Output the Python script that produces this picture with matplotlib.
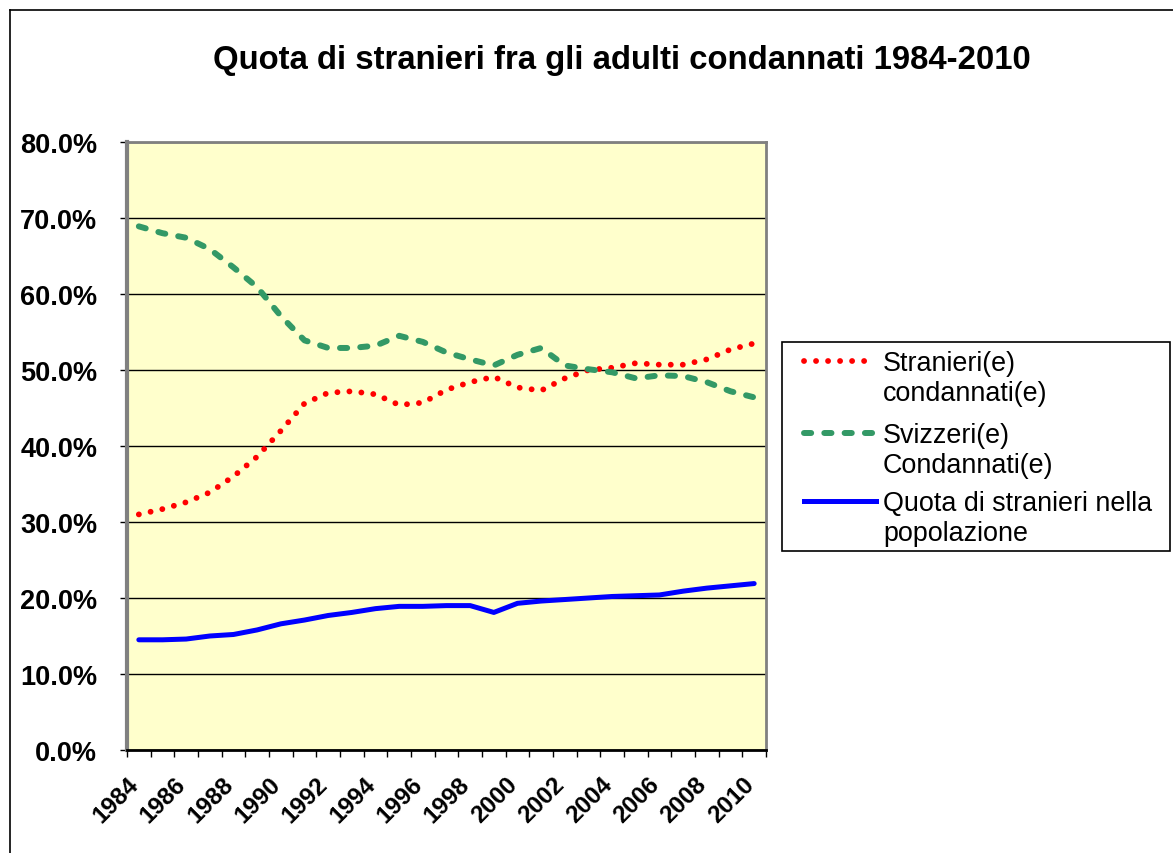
import matplotlib
matplotlib.use("Agg")
import matplotlib.pyplot as plt
from matplotlib.lines import Line2D
from matplotlib.patches import Rectangle
from matplotlib.ticker import FuncFormatter, MultipleLocator
import numpy as np

plt.rcParams['font.family'] = ['Liberation Sans', 'DejaVu Sans']

years = list(range(1984, 2011))
stranieri = [31.0, 31.7, 32.6, 33.9, 36.0, 38.6, 42.0, 45.6, 47.0, 47.2, 46.8, 45.4, 45.7,
             47.4, 48.4, 49.1, 47.7, 47.3, 48.9, 50.0, 50.3, 50.9, 50.7, 50.7, 51.4, 52.7, 53.5]
svizzeri = [68.9, 68.0, 67.4, 65.9, 63.5, 60.9, 57.1, 53.9, 52.9, 52.9, 53.2, 54.5, 53.7,
            52.3, 51.4, 50.6, 52.0, 52.9, 50.6, 50.1, 49.7, 48.9, 49.3, 49.2, 48.4, 47.2, 46.4]
popolazione = [14.5, 14.5, 14.6, 15.0, 15.2, 15.8, 16.6, 17.1, 17.7, 18.1, 18.6, 18.9, 18.9,
               19.0, 19.0, 18.1, 19.3, 19.6, 19.8, 20.0, 20.2, 20.3, 20.4, 20.9, 21.3, 21.6, 21.9]
labels = ["Stranieri(e)\ncondannati(e)", "Svizzeri(e)\nCondannati(e)",
          "Quota di stranieri nella\npopolazione"]
title = "Quota di stranieri fra gli adulti condannati 1984-2010"

W, H = 1173, 854
fig = plt.figure(figsize=(W / 100, H / 100), dpi=100)
fig.patch.set_facecolor('white')

L, R, T, B = 127, 766, 143, 751
ax = fig.add_axes([L / W, 1 - B / H, (R - L) / W, (B - T) / H])
ax.set_facecolor('#FFFFCC')

red_style = dict(color='#FF0000', lw=4.2, linestyle=(0, (0.01, 2.05)), dash_capstyle='round')
green_style = dict(color='#339966', lw=4.3, linestyle=(0, (1.2, 2.2)), dash_capstyle='round')
blue_style = dict(color='#0000FF', lw=3.6, solid_capstyle='round')

x = np.arange(len(years))
ax.plot(x, stranieri, zorder=3, **red_style)
ax.plot(x, svizzeri, zorder=3, **green_style)
ax.plot(x, popolazione, zorder=3, **blue_style)

ax.set_xlim(-0.5, len(years) - 0.5)
ax.set_ylim(0, 80)
ax.yaxis.set_major_locator(MultipleLocator(10))
ax.yaxis.set_major_formatter(FuncFormatter(lambda v, p: f"{v:.1f}%"))
ax.grid(axis='y', color='black', lw=1.0)
ax.set_axisbelow(True)

# category boundary ticks; year labels hang from the boundary left of each even year
bounds = np.arange(-0.5, len(years))
tick_labels = [str(years[i]) if (i < len(years) and i % 2 == 0) else '' for i in range(len(bounds))]
ax.set_xticks(bounds)
ax.set_xticklabels(tick_labels, rotation=45, ha='right', va='top',
                   rotation_mode='anchor', fontsize=17.5, fontweight='bold')
ax.tick_params(axis='x', length=5, width=1, color='black', pad=11)
ax.tick_params(axis='y', length=5, width=1, color='black', labelsize=19.5, pad=16.5)
for lab in ax.get_yticklabels():
    lab.set_fontweight('bold')

for s in ['top', 'right']:
    ax.spines[s].set_color('#808080')
    ax.spines[s].set_linewidth(2)
ax.spines['left'].set_color('#808080')
ax.spines['left'].set_linewidth(3)
ax.spines['bottom'].set_color('black')
ax.spines['bottom'].set_linewidth(2)

fig.text(622 / W, 1 - 61 / H, title, ha='center', va='center', fontsize=23.7,
         fontweight='bold')

# outer chart frame
fig.add_artist(Line2D([10 / W, 1.0], [1 - 11 / H, 1 - 11 / H], color='black', lw=1.2,
                      transform=fig.transFigure))
fig.add_artist(Line2D([10 / W, 10 / W], [0, 1 - 11 / H], color='black', lw=1.2,
                      transform=fig.transFigure))

# legend
lx0, ly0, lx1, ly1 = 782, 343, 1170, 552
fig.add_artist(Rectangle((lx0 / W, 1 - ly1 / H), (lx1 - lx0) / W, (ly1 - ly0) / H,
                         transform=fig.transFigure, facecolor='white',
                         edgecolor='black', lw=1.2))
styles = [red_style, green_style, dict(color='#0000FF', lw=3.6)]
rows = [362, 434, 502]
for lab, st, yy in zip(labels, styles, rows):
    fig.add_artist(Line2D([804 / W, 876 / W], [1 - yy / H, 1 - yy / H],
                          transform=fig.transFigure, **st))
    fig.text(883 / W, 1 - (yy - 11) / H, lab, ha='left', va='top', fontsize=19.4,
             linespacing=1.2)

fig.savefig('out.png', dpi=100)
